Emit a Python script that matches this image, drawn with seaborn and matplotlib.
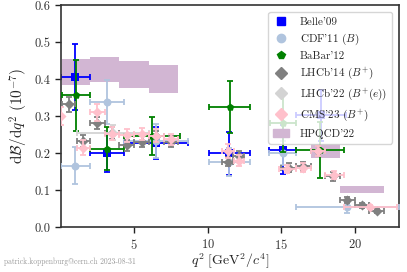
import numpy as np
import pandas as pd
import seaborn as sns
import matplotlib.pyplot as plt
from matplotlib.lines import Line2D
from matplotlib.patches import Patch

sns.set_theme(style="ticks")
plt.rcParams['font.family'] = ['cmr10', 'DejaVu Serif']
plt.rcParams['mathtext.fontset'] = 'cm'
plt.rcParams['axes.formatter.use_mathtext'] = True

# Belle'09
belle_lo = [0.0, 2.0, 4.3, 10.09, 14.18, 16.0]
belle_hi = [2.0, 4.3, 8.68, 12.86, 16.0, 19.4]
belle_y = [0.406, 0.200, 0.227, 0.200, 0.209, 0.302]
belle_err = [0.090, 0.052, 0.043, 0.058, 0.066, 0.070]

# CDF'11 (B)
cdf_lo = [0.0, 2.0, 4.3, 10.09, 14.18, 16.0]
cdf_hi = [2.0, 4.3, 8.68, 12.86, 16.0, 23.0]
cdf_y = [0.166, 0.338, 0.233, 0.175, 0.200, 0.054]
cdf_err = [0.050, 0.060, 0.047, 0.038, 0.033, 0.015]

# BaBar'12
babar_lo = [0.1, 2.0, 4.3, 10.11, 14.21, 16.0]
babar_hi = [2.0, 4.3, 8.12, 12.89, 16.0, 19.3]
babar_y = [0.356, 0.212, 0.246, 0.325, 0.282, 0.209]
babar_err = [0.096, 0.058, 0.052, 0.070, 0.080, 0.075]

# LHCb'14 (B+)
lhcb14_lo = [0.1, 1.1, 2, 3, 4, 5, 6, 7, 11, 11.75, 15, 16, 17, 18, 19, 20, 21]
lhcb14_hi = [0.98, 2, 3, 4, 5, 6, 7, 8, 11.75, 12.5, 16, 17, 18, 19, 20, 21, 22]
lhcb14_y = [0.332, 0.233, 0.282, 0.254, 0.221, 0.231, 0.245, 0.231, 0.177,
            0.193, 0.161, 0.164, 0.206, 0.137, 0.074, 0.059, 0.043]
lhcb14_err = [0.020, 0.017, 0.017, 0.016, 0.015, 0.015, 0.015, 0.014, 0.013,
              0.013, 0.011, 0.011, 0.013, 0.011, 0.008, 0.007, 0.006]

# LHCb'22 (B+ ee)
lhcb22_lo = [1.1]
lhcb22_hi = [6.0]
lhcb22_y = [0.255]
lhcb22_err = [0.020]

# CMS'23 (B+)
cms_lo = [0.0, 1.1, 2, 3, 4, 5, 6, 7, 11, 11.8, 14.82, 16, 17, 18, 19.24]
cms_hi = [0.1, 2, 3, 4, 5, 6, 7, 8, 11.8, 12.5, 16, 17, 18, 19.24, 22.9]
cms_y = [0.300, 0.215, 0.310, 0.253, 0.248, 0.252, 0.247, 0.237, 0.206,
         0.180, 0.157, 0.160, 0.205, 0.140, 0.054]
cms_err = [0.025, 0.020, 0.022, 0.018, 0.017, 0.017, 0.017, 0.016, 0.018,
           0.016, 0.012, 0.012, 0.014, 0.011, 0.006]

# HPQCD'22 bands
hp_lo = [0.1, 2, 4, 6, 17, 19]
hp_hi = [2, 4, 6, 8, 19, 22]
hp_ylo = [0.383, 0.392, 0.375, 0.363, 0.188, 0.092]
hp_yhi = [0.454, 0.461, 0.448, 0.439, 0.226, 0.112]
hp_color = "#d2b6d3"

fig = plt.figure(figsize=(4.07, 2.72), dpi=100)
ax = fig.add_axes([0.149, 0.165, 0.831, 0.816])

ax.bar(hp_lo, np.subtract(hp_yhi, hp_ylo), width=np.subtract(hp_hi, hp_lo),
       bottom=hp_ylo, align="edge", color=hp_color, lw=0, zorder=1)

series = [
    ("Belle'09", belle_lo, belle_hi, belle_y, belle_err, "blue", "s", 5),
    (r"CDF'11 ($B$)", cdf_lo, cdf_hi, cdf_y, cdf_err, "lightsteelblue", "o", 5),
    ("BaBar'12", babar_lo, babar_hi, babar_y, babar_err, "green", "p", 5),
    (r"LHCb'14 ($B^{+}$)", lhcb14_lo, lhcb14_hi, lhcb14_y, lhcb14_err, "grey", "D", 4.5),
    (r"LHCb'22 ($B^{+}(e)$)", lhcb22_lo, lhcb22_hi, lhcb22_y, lhcb22_err, "lightgrey", "D", 4.5),
    (r"CMS'23 ($B^{+}$)", cms_lo, cms_hi, cms_y, cms_err, "pink", "D", 4.5),
]

handles = []
for i, (name, lo, hi, y, err, col, mk, ms) in enumerate(series):
    lo = np.array(lo); hi = np.array(hi)
    d = pd.DataFrame({"x": (lo + hi) / 2, "y": y})
    ax.errorbar(d["x"], d["y"], xerr=(hi - lo) / 2, yerr=err, fmt="none",
                ecolor=col, elinewidth=1.3, capsize=2.5, capthick=1.3, zorder=2 + i)
    sns.scatterplot(data=d, x="x", y="y", color=col, marker=mk, s=ms ** 2 * 1.3,
                    linewidth=0, ax=ax, zorder=2 + i)
    handles.append(Line2D([], [], ls="none", marker=mk, color=col, markersize=6))
handles.append(Patch(color=hp_color))
labels = [s[0] for s in series] + ["HPQCD'22"]

ax.set_xlim(0, 23)
ax.set_ylim(0, 0.6)
ax.set_xticks([5, 10, 15, 20])
ax.set_yticks(np.arange(0, 0.61, 0.1))
ax.yaxis.set_major_formatter(plt.FuncFormatter(lambda v, p: f"{v:.1f}"))
ax.tick_params(labelsize=9, length=4, width=1, colors="#222222", labelcolor="#333333")
for s in ax.spines.values():
    s.set_linewidth(1.2)
    s.set_color("#333333")

ax.set_xlabel(r"$q^2\ [\mathrm{GeV}^2/c^4]$", fontsize=10, labelpad=0)
ax.set_ylabel(r"$\mathrm{d}\mathcal{B}/\mathrm{d}q^2\ (10^{-7})$", fontsize=11, labelpad=3)

ax.legend(handles, labels, loc="upper right", fontsize=8, labelspacing=0.42,
          handlelength=1.4, handletextpad=1.0, borderaxespad=0.6, borderpad=0.45,
          framealpha=0.8, edgecolor="#cccccc")

fig.text(0.01, 0.03, "patrick.koppenburg@cern.ch 2023-08-31", fontsize=5.5, color="#999999")

fig.savefig("out.png", dpi=100)
